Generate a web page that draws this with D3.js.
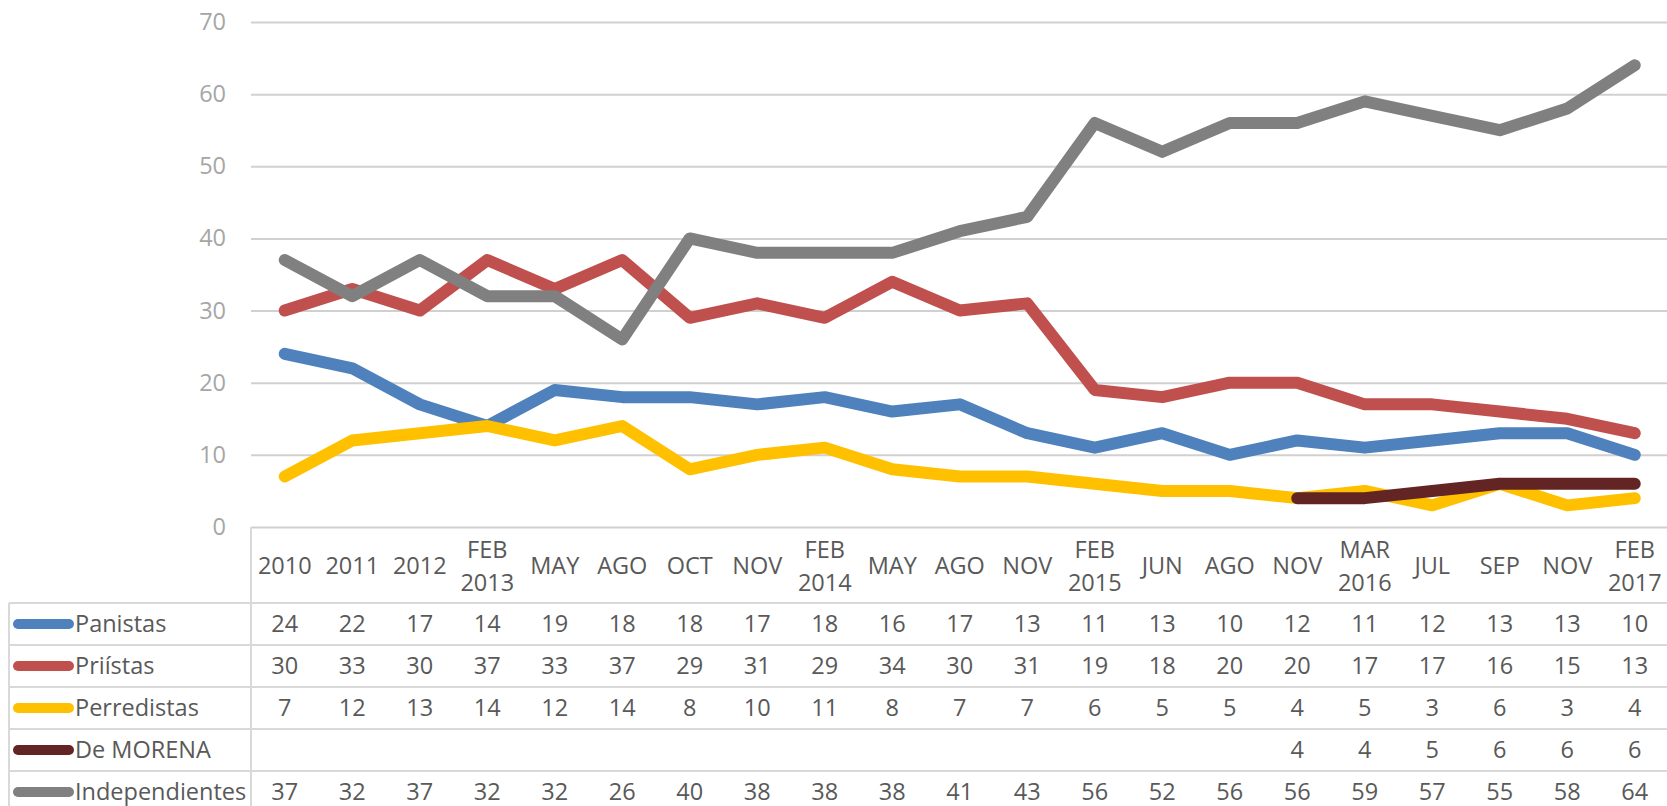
<!DOCTYPE html>
<html>
<head>
<meta charset="utf-8">
<script src="https://cdn.jsdelivr.net/npm/d3@7"></script>
<style>
  body { margin: 0; background: #fff; }
  svg { display: block; font-family: "Open Sans", Lato, sans-serif; }
</style>
</head>
<body>
<div id="chart"></div>
<script>
// survey columns (labels with a space are drawn on two lines)
const categories = ["2010", "2011", "2012", "FEB 2013", "MAY", "AGO", "OCT", "NOV", "FEB 2014", "MAY",
  "AGO", "NOV", "FEB 2015", "JUN", "AGO", "NOV", "MAR 2016", "JUL", "SEP", "NOV", "FEB 2017"];

const panistas = [24, 22, 17, 14, 19, 18, 18, 17, 18, 16, 17, 13, 11, 13, 10, 12, 11, 12, 13, 13, 10];
const priistas = [30, 33, 30, 37, 33, 37, 29, 31, 29, 34, 30, 31, 19, 18, 20, 20, 17, 17, 16, 15, 13];
const perredistas = [7, 12, 13, 14, 12, 14, 8, 10, 11, 8, 7, 7, 6, 5, 5, 4, 5, 3, 6, 3, 4];
const morena = [null, null, null, null, null, null, null, null, null, null, null, null, null, null, null,
  4, 4, 5, 6, 6, 6];
const independientes = [37, 32, 37, 32, 32, 26, 40, 38, 38, 38, 41, 43, 56, 52, 56, 56, 59, 57, 55, 58, 64];

const seriesNames = ["Panistas", "Priístas", "Perredistas", "De MORENA", "Independientes"];
const seriesValues = [panistas, priistas, perredistas, morena, independientes];
const seriesColors = ["#4f81bd", "#c0504d", "#ffc000", "#632523", "#808080"];

const yTicks = [0, 10, 20, 30, 40, 50, 60, 70];

// layout
const W = 1667, H = 806;
const plotLeft = 251, colW = 67.5;
const plotRight = plotLeft + colW * categories.length;
const plotTop = 22, plotBottom = 527;
const headerBottom = 603, rowH = 42;
const tableLeft = 9;
const gridColor = "#d0d0d0";
const tableColor = "#d9d9d9";
const textColor = "#595959";
const fontSize = 23.5;

const svg = d3.select("#chart")
  .append("svg")
  .attr("width", W)
  .attr("height", H);

const x = d3.scaleBand()
  .domain(d3.range(categories.length))
  .range([plotLeft, plotRight]);

const y = d3.scaleLinear()
  .domain([0, 70])
  .range([plotBottom, plotTop]);

// y axis + gridlines
const yAxis = svg.append("g")
  .attr("transform", "translate(" + plotLeft + ",0)")
  .call(d3.axisLeft(y)
    .tickValues(yTicks)
    .tickSize(-(plotRight - plotLeft))
    .tickPadding(25));
yAxis.select(".domain").remove();
yAxis.selectAll(".tick line").attr("stroke", gridColor).attr("stroke-width", 2);
yAxis.selectAll(".tick text")
  .attr("fill", "#a6a6a6")
  .attr("font-size", fontSize)
  .attr("font-family", "'Open Sans', Lato, sans-serif");

// table lines
svg.append("line")
  .attr("x1", plotLeft).attr("x2", plotLeft)
  .attr("y1", plotBottom).attr("y2", H)
  .attr("stroke", tableColor).attr("stroke-width", 2);
svg.append("line")
  .attr("x1", tableLeft).attr("x2", tableLeft)
  .attr("y1", headerBottom).attr("y2", H)
  .attr("stroke", tableColor).attr("stroke-width", 2);
svg.selectAll(".rowline")
  .data(d3.range(seriesNames.length + 1))
  .enter().append("line")
  .attr("class", "rowline")
  .attr("x1", tableLeft).attr("x2", W)
  .attr("y1", i => headerBottom + i * rowH)
  .attr("y2", i => headerBottom + i * rowH)
  .attr("stroke", tableColor).attr("stroke-width", 2);

// header labels
const headerMid = (plotBottom + headerBottom) / 2 + 1;
const head = svg.selectAll(".head")
  .data(categories)
  .enter().append("text")
  .attr("class", "head")
  .attr("text-anchor", "middle")
  .attr("fill", textColor)
  .attr("font-size", fontSize)
  .attr("x", (d, i) => x(i) + x.bandwidth() / 2);
head.each(function (d, i) {
  const parts = d.split(" ");
  const t = d3.select(this);
  parts.forEach((p, j) => {
    t.append("tspan")
      .attr("x", x(i) + x.bandwidth() / 2)
      .attr("y", headerMid + (j - (parts.length - 1) / 2) * 33)
      .attr("dy", "0.35em")
      .text(p);
  });
});

// series lines
const line = d3.line()
  .defined(d => d != null)
  .x((d, i) => x(i) + x.bandwidth() / 2)
  .y(d => y(d));

svg.selectAll(".series")
  .data(seriesValues)
  .enter().append("path")
  .attr("class", "series")
  .attr("fill", "none")
  .attr("stroke", (d, i) => seriesColors[i])
  .attr("stroke-width", 12)
  .attr("stroke-linecap", "round")
  .attr("stroke-linejoin", "round")
  .attr("d", line);

// table rows: legend key, name, values
seriesNames.forEach((name, s) => {
  const cy = headerBottom + rowH * (s + 0.5);
  svg.append("line")
    .attr("x1", 18).attr("x2", 69)
    .attr("y1", cy).attr("y2", cy)
    .attr("stroke", seriesColors[s])
    .attr("stroke-width", 10)
    .attr("stroke-linecap", "round");
  svg.append("text")
    .attr("x", 75)
    .attr("y", cy)
    .attr("dy", "0.35em")
    .attr("fill", textColor)
    .attr("font-size", fontSize)
    .text(name);
  svg.selectAll(".val" + s)
    .data(seriesValues[s])
    .enter().append("text")
    .attr("class", "val" + s)
    .attr("text-anchor", "middle")
    .attr("x", (d, i) => x(i) + x.bandwidth() / 2)
    .attr("y", cy)
    .attr("dy", "0.35em")
    .attr("fill", textColor)
    .attr("font-size", fontSize)
    .text(d => d == null ? "" : d);
});
</script>
</body>
</html>
